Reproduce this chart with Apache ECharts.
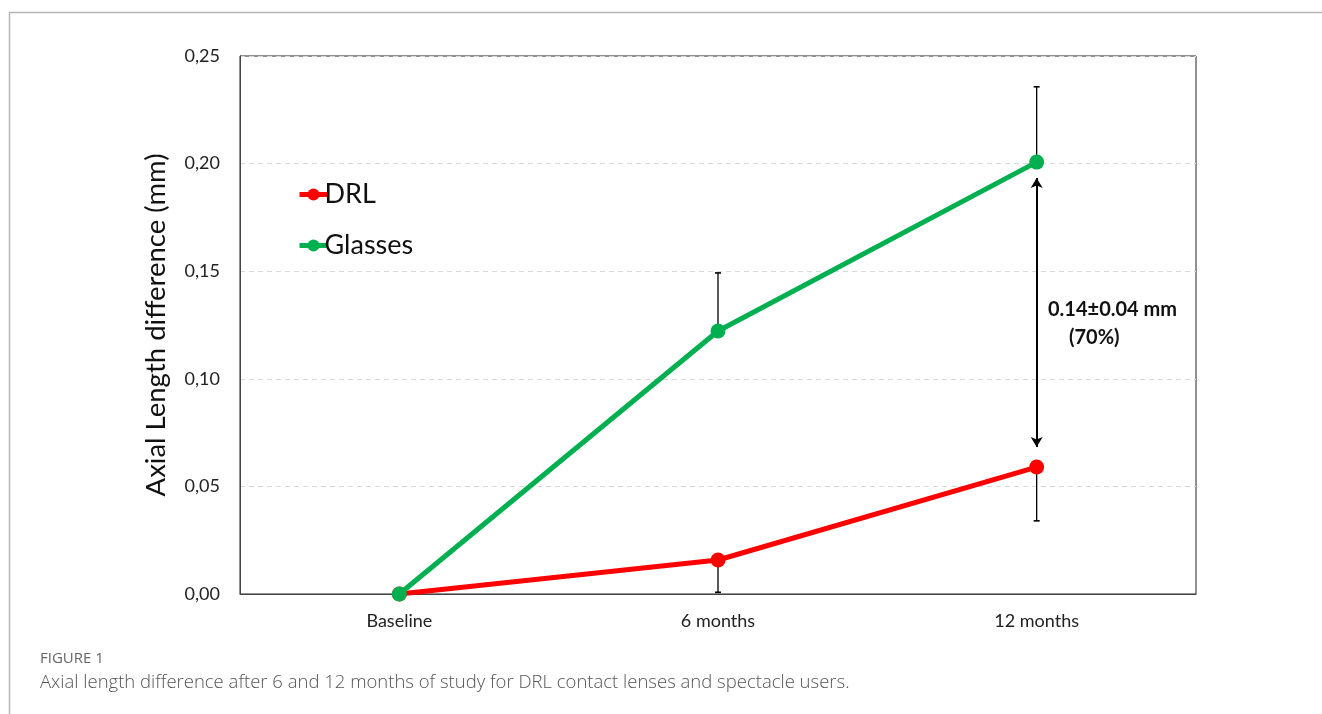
<!DOCTYPE html>
<html>
<head>
<meta charset="utf-8">
<title>Axial length difference</title>
<script src="https://cdn.jsdelivr.net/npm/echarts@6/dist/echarts.min.js"></script>
<style>
  html, body { margin: 0; padding: 0; background: #fff; }
  #chart { width: 1322px; height: 714px; }
</style>
</head>
<body>
<div id="chart"></div>
<script>
// Time points of the study
const categories = ['Baseline', '6 months', '12 months'];

// Mean axial length change (mm)
const drlValues = [0, 0.0158, 0.059];
const glassesValues = [0, 0.1222, 0.2007];

// One-sided error bars (mm): DRL drawn downward, glasses upward
const drlErrors = [0, 0.015, 0.025];
const glassesErrors = [0, 0.027, 0.035];

// Difference arrow at 12 months (mm)
const arrowRange = [0.0683, 0.1933];
const arrowLabel = ['0.14±0.04 mm', '(70%)'];

// Y axis ticks
const yMin = 0, yMax = 0.25, yStep = 0.05;

const FONT = 'Lato, "Open Sans", sans-serif';

function errorBarSeries(name, values, errors, dir) {
  return {
    type: 'custom',
    name: name + ' error',
    z: 1,
    silent: true,
    data: values.map((v, i) => [i, v, v + dir * errors[i]]),
    renderItem: function (params, api) {
      const x = api.value(0);
      const p0 = api.coord([x, api.value(1)]);
      const p1 = api.coord([x, api.value(2)]);
      if (Math.abs(p0[1] - p1[1]) < 0.5) return null;
      const cap = 3;
      return {
        type: 'group',
        children: [
          { type: 'line', shape: { x1: p0[0], y1: p0[1], x2: p1[0], y2: p1[1] },
            style: { stroke: '#000', lineWidth: 1.3 } },
          { type: 'line', shape: { x1: p1[0] - cap, y1: p1[1], x2: p1[0] + cap, y2: p1[1] },
            style: { stroke: '#000', lineWidth: 1.6 } }
        ]
      };
    }
  };
}

const chart = echarts.init(document.getElementById('chart'), null, { renderer: 'canvas' });

chart.setOption({
  animation: false,
  backgroundColor: '#fff',
  textStyle: { fontFamily: FONT },
  grid: {
    left: 240, top: 56, right: 126, bottom: 120,
    show: true, borderColor: '#222', borderWidth: 1, backgroundColor: 'transparent'
  },
  legend: {
    orient: 'vertical',
    left: 292, top: 176,
    itemGap: 24,
    itemWidth: 28, itemHeight: 15,
    data: ['DRL', 'Glasses'],
    lineStyle: { width: 5 },
    textStyle: { fontSize: 27, color: '#111', fontFamily: FONT, padding: [0, 0, 0, -8] }
  },
  xAxis: {
    type: 'category',
    data: categories,
    boundaryGap: true,
    axisTick: { show: false },
    axisLine: { lineStyle: { color: '#444', width: 1 } },
    axisLabel: { fontSize: 18, color: '#222', margin: 18, fontFamily: FONT },
    splitLine: { show: false }
  },
  yAxis: {
    type: 'value',
    min: yMin, max: yMax, interval: yStep,
    name: 'Axial Length difference (mm)',
    nameLocation: 'middle',
    nameRotate: 90,
    nameGap: 70,
    nameTextStyle: { fontSize: 27.5, color: '#111', fontFamily: FONT },
    axisLine: { show: true, lineStyle: { color: '#444', width: 1 } },
    axisTick: { show: false },
    axisLabel: {
      fontSize: 18, color: '#222', margin: 20, fontFamily: FONT,
      formatter: v => v.toFixed(2).replace('.', ',')
    },
    splitLine: { show: true, lineStyle: { color: '#d9d9d9', type: [5, 4], width: 1 } }
  },
  series: [
    errorBarSeries('DRL', drlValues, drlErrors, -1),
    errorBarSeries('Glasses', glassesValues, glassesErrors, 1),
    {
      name: 'DRL',
      type: 'line',
      z: 3,
      data: drlValues,
      symbol: 'circle',
      symbolSize: 15,
      lineStyle: { color: '#ff0000', width: 5 },
      itemStyle: { color: '#ff0000' },
      markLine: {
        silent: true,
        symbol: ['arrow', 'arrow'],
        symbolSize: [9, 10],
        lineStyle: { color: '#000', width: 2, type: 'solid' },
        label: { show: false },
        data: [[
          { coord: [categories[2], arrowRange[0]] },
          { coord: [categories[2], arrowRange[1]] }
        ]]
      }
    },
    {
      name: 'Glasses',
      type: 'line',
      z: 4,
      data: glassesValues,
      symbol: 'circle',
      symbolSize: 15,
      lineStyle: { color: '#00b050', width: 5 },
      itemStyle: { color: '#00b050' }
    }
  ],
  graphic: [
    // outer figure frame
    { type: 'polyline', silent: true,
      shape: { points: [[9.5, 714], [9.5, 12.5], [1322, 12.5]] },
      style: { stroke: '#b4b4b4', lineWidth: 1.5, fill: null } },
    // difference annotation
    { type: 'text', left: 1048, top: 300,
      style: { text: arrowLabel[0], font: 'bold 20px ' + FONT, fill: '#111' } },
    { type: 'text', left: 1069, top: 328,
      style: { text: arrowLabel[1], font: 'bold 20px ' + FONT, fill: '#111' } },
    // caption
    { type: 'text', left: 40, top: 651,
      style: { text: 'FIGURE 1', font: '15px "Open Sans", sans-serif', fill: '#666' } },
    { type: 'text', left: 40, top: 673,
      style: { text: 'Axial length difference after 6 and 12 months of study for DRL contact lenses and spectacle users.',
               font: '300 18.5px "Open Sans", sans-serif', fill: '#555' } }
  ]
});
</script>
</body>
</html>
